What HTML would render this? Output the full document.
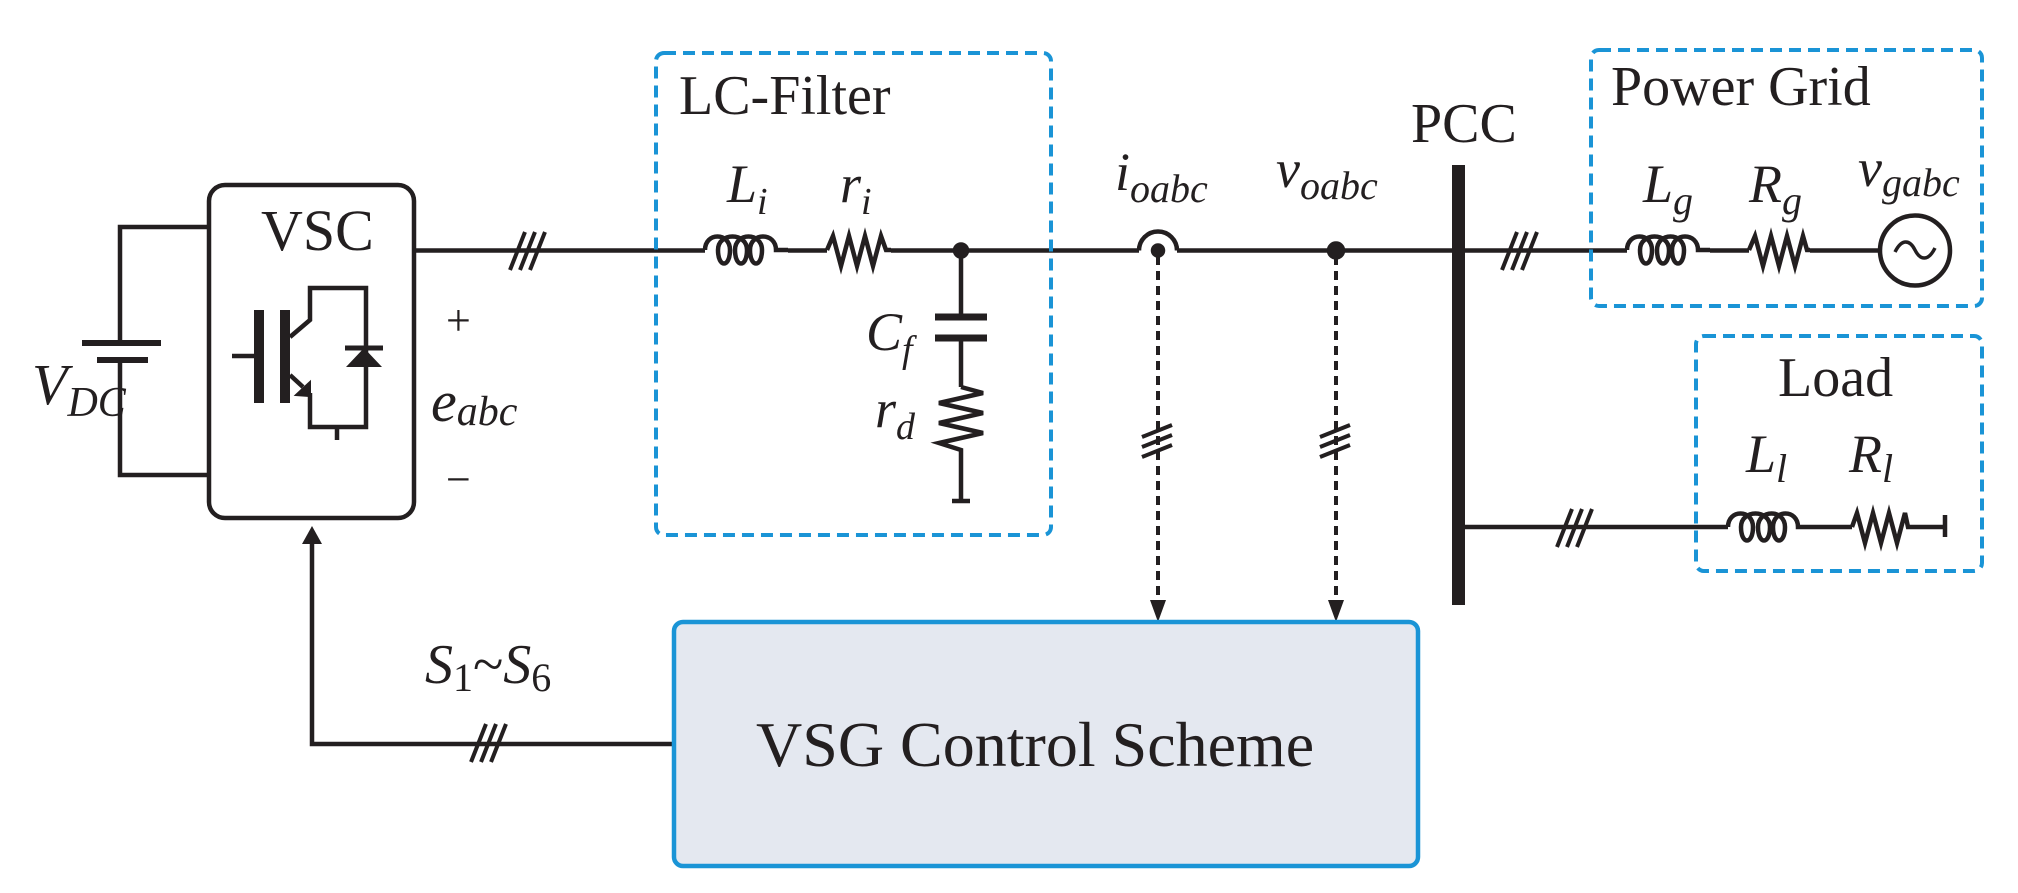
<!DOCTYPE html>
<html><head><meta charset="utf-8"><style>
html,body{margin:0;padding:0;background:#fff}
svg{display:block}
text{font-family:"Liberation Serif",serif;fill:#231f20}
.i{font-style:italic}
</style></head><body>
<svg width="2018" height="893" viewBox="0 0 2018 893" xmlns="http://www.w3.org/2000/svg">
<g stroke="#231f20" stroke-width="4.5" fill="none" stroke-linejoin="miter">
<!-- DC source -->
<path d="M209,227 H120 V343 M120,360 V475 H209"/>
<path d="M82,343 H161" stroke-width="6"/>
<path d="M97,360 H148" stroke-width="6"/>
<!-- VSC box -->
<rect x="209" y="185" width="205" height="333" rx="16"/>
<!-- IGBT -->
<path d="M232,356 H255"/>
<rect x="254" y="310" width="10" height="93" fill="#231f20" stroke="none"/>
<rect x="280" y="310" width="10" height="93" fill="#231f20" stroke="none"/>
<path d="M290,337 L310,320 V288 H366 V427 H310 V393"/>
<path d="M290,375 L303,387"/>
<path d="M296,395 L310,382 L310,396 z" fill="#231f20" stroke-width="2"/>
<path d="M345,348 H383" stroke-width="5"/>
<path d="M346,367 L382,367 L364,348 z" fill="#231f20" stroke="none"/>
<path d="M337,427 V440"/>
<!-- main line -->
<path d="M414,250.5 H705 M788,250.5 H827 M891,250.5 H1139 M1177,250.5 H1627 M1710,250.5 H1749 M1810,250.5 H1880"/>
<!-- Li inductor -->
<path d="M705,250 C705,232 730,232 730,250 C730,268 718,268 718,250 C718,232 747,232 747,250 C747,268 735,268 735,250 C735,232 762,232 762,250 C762,268 750,268 750,250 C750,232 776,232 776,250 C776,250 788,250 788,250"/>
<!-- ri resistor -->
<path d="M827,250 L833,236 L841,266 L849,236 L857,266 L865,236 L873,266 L881,236 L886,250 H891"/>
<!-- capacitor branch -->
<circle cx="961" cy="250.5" r="6" fill="#231f20"/>
<path d="M961,250 V317 M961,338 V387"/>
<path d="M935,317 H987 M935,338 H987" stroke-width="7"/>
<path d="M961,387 L983,393 L939,403 L983,413 L939,423 L983,433 L939,443 L961,450 V501 M952,501 H970"/>
<!-- hop -->
<path d="M1139,250.5 A19,19 0 0 1 1177,250.5"/>
<circle cx="1158" cy="250.5" r="5" fill="#231f20"/>
<circle cx="1336" cy="250.5" r="7" fill="#231f20"/>
<!-- dashed -->
<path d="M1158,256 V602 M1336,256 V602" stroke-dasharray="9,6" stroke-width="4"/>
<path d="M1150,600 L1166,600 L1158,622 z M1328,600 L1344,600 L1336,622 z" fill="#231f20" stroke="none"/>
<!-- double slashes on dashed -->
<path d="M1142,437 L1172,425 M1142,447 L1172,435 M1142,457 L1172,445" stroke-width="4"/>
<path d="M1320,437 L1350,425 M1320,447 L1350,435 M1320,457 L1350,445" stroke-width="4"/>
<!-- PCC bar -->
<rect x="1452" y="165" width="13" height="440" fill="#231f20" stroke="none"/>
<!-- Lg inductor -->
<path d="M1627,250 C1627,232 1652,232 1652,250 C1652,268 1640,268 1640,250 C1640,232 1669,232 1669,250 C1669,268 1657,268 1657,250 C1657,232 1684,232 1684,250 C1684,268 1672,268 1672,250 C1672,232 1698,232 1698,250 H1710"/>
<path d="M1749,250 L1755,236 L1763,266 L1771,236 L1779,266 L1787,236 L1795,266 L1803,236 L1807,250 H1810"/>
<circle cx="1915" cy="250.5" r="35"/>
<path d="M1895,252 C1902,238 1910,240 1915,250 C1920,260 1928,262 1935,248" stroke-width="3.5"/>
<!-- load line -->
<path d="M1465,527 H1728 M1810,527 H1852 M1910,527 H1945 M1945,515 V537"/>
<path d="M1728,527 C1728,509 1753,509 1753,527 C1753,545 1741,545 1741,527 C1741,509 1770,509 1770,527 C1770,545 1758,545 1758,527 C1758,509 1785,509 1785,527 C1785,545 1773,545 1773,527 C1773,509 1798,509 1798,527 H1810"/>
<path d="M1852,527 L1857,513 L1865,543 L1873,513 L1881,543 L1889,513 L1897,543 L1905,513 L1908,527 H1910"/>
<!-- control -->
<path d="M674,744 H312 V542"/>
<path d="M302,544 L312,526 L322,544 z" fill="#231f20" stroke="none"/>
<!-- triple slashes -->
<g stroke-width="4">
<path d="M510,270 L525,232 M520,270 L535,232 M530,270 L545,232"/>
<path d="M1502,270 L1517,232 M1512,270 L1527,232 M1522,270 L1537,232"/>
<path d="M1557,547 L1572,509 M1567,547 L1582,509 M1577,547 L1592,509"/>
<path d="M471,762 L486,724 M481,762 L496,724 M491,762 L506,724"/>
</g>
</g>
<!-- dashed boxes -->
<g stroke="#1a94d6" stroke-width="4" fill="none" stroke-dasharray="12,7">
<rect x="656" y="53" width="395" height="482" rx="8"/>
<rect x="1591" y="50" width="391" height="256" rx="8"/>
<rect x="1696" y="336" width="286" height="235" rx="8"/>
</g>
<rect x="674" y="622" width="744" height="244" rx="9" fill="#e4e8f0" stroke="#1a94d6" stroke-width="4.5"/>
<!-- text -->
<text x="261" y="250" font-size="58">VSC</text>
<text x="32" y="404" font-size="58" class="i">V<tspan font-size="42" dy="12">DC</tspan></text>
<text x="446" y="335" font-size="44">+</text>
<text x="446" y="494" font-size="44">−</text>
<text x="431" y="421" font-size="58" class="i">e<tspan font-size="42" dy="4">abc</tspan></text>
<text x="679" y="114" font-size="56">LC-Filter</text>
<text x="727" y="202" font-size="54" class="i">L<tspan font-size="38" dy="12">i</tspan></text>
<text x="840" y="202" font-size="54" class="i">r<tspan font-size="38" dy="12">i</tspan></text>
<text x="866" y="350" font-size="54" class="i">C<tspan font-size="38" dy="12">f</tspan></text>
<text x="875" y="427" font-size="54" class="i">r<tspan font-size="38" dy="12">d</tspan></text>
<text x="1115" y="190" font-size="54" class="i">i<tspan font-size="40" dy="12">oabc</tspan></text>
<text x="1276" y="187" font-size="54" class="i">v<tspan font-size="40" dy="12">oabc</tspan></text>
<text x="1411" y="142" font-size="56">PCC</text>
<text x="1611" y="105" font-size="56">Power Grid</text>
<text x="1643" y="202" font-size="54" class="i">L<tspan font-size="40" dy="12">g</tspan></text>
<text x="1749" y="202" font-size="54" class="i">R<tspan font-size="40" dy="12">g</tspan></text>
<text x="1858" y="186" font-size="54" class="i">v<tspan font-size="40" dy="10">gabc</tspan></text>
<text x="1778" y="396" font-size="56">Load</text>
<text x="1746" y="472" font-size="54" class="i">L<tspan font-size="40" dy="10">l</tspan></text>
<text x="1849" y="472" font-size="54" class="i">R<tspan font-size="40" dy="10">l</tspan></text>
<text x="425" y="683" font-size="56" class="i">S<tspan font-size="40" dy="8" font-style="normal">1</tspan><tspan dy="-8" font-style="normal">~</tspan>S<tspan font-size="40" dy="8" font-style="normal">6</tspan></text>
<text x="756" y="766" font-size="64">VSG Control Scheme</text>
</svg>
</body></html>
